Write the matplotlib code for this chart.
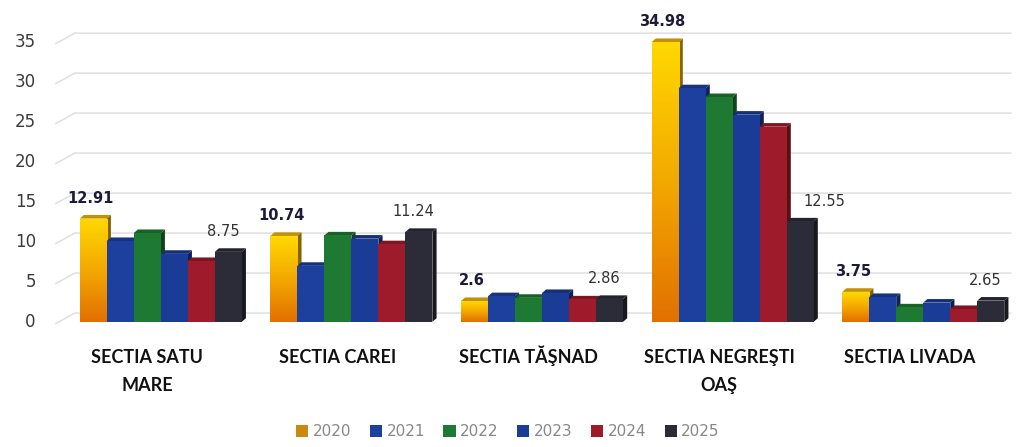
import numpy as np
import matplotlib
matplotlib.use("Agg")
import matplotlib.pyplot as plt
from matplotlib.patches import Rectangle, Polygon
from matplotlib.colors import LinearSegmentedColormap

categories = ["SECTIA SATU\nMARE", "SECTIA CAREI", "SECTIA TĂŞNAD", "SECTIA NEGREŞTI\nOAŞ", "SECTIA LIVADA"]
years = ["2020", "2021", "2022", "2023", "2024", "2025"]

v2020 = [12.91, 10.74, 2.6, 34.98, 3.75]
v2021 = [10.1, 7.0, 3.2, 29.2, 3.1]
v2022 = [11.1, 10.8, 3.0, 28.1, 1.8]
v2023 = [8.5, 10.4, 3.6, 25.9, 2.4]
v2024 = [7.6, 9.7, 2.8, 24.4, 1.6]
v2025 = [8.75, 11.24, 2.86, 12.55, 2.65]
series = [v2020, v2021, v2022, v2023, v2024, v2025]

colors = ["#f2b400", "#1d3f9e", "#1e7a32", "#1a3c96", "#9e1b2b", "#2c2c38"]
yticks = [0, 5, 10, 15, 20, 25, 30, 35]

# horizontal nudge (in bar widths) of the 2025 labels, as placed in the original
nudge_2025 = [-0.2, -0.2, -0.2, 0.9, -0.2]


def shade(c, f):
    r, g, b, a = matplotlib.colors.to_rgba(c)
    return (r * f, g * f, b * f, a)


fig = plt.figure(figsize=(10.16, 4.47), dpi=100)
ax = fig.add_axes([0.055, 0.28, 0.94, 0.662])
ax.set_xlim(-0.55, 4.46)
ax.set_ylim(0, 37)
ax.axis("off")

# back wall gridlines with a little perspective slant on the left
x0, x1 = ax.get_xlim()
ytrans = ax.get_yaxis_transform()
for t in yticks:
    ax.plot([x0, x0 + 0.1, x1], [t - 0.2, t + 1.1, t + 1.1], color="#dcdcdc", lw=1.0, zorder=0, clip_on=False)
    ax.text(-0.021, t, str(t), transform=ytrans, ha="right", va="center",
            fontsize=12, color="#3a3a3a", clip_on=False)

width = 0.85 / 6
dx, dy = 0.022, 0.45
grad = LinearSegmentedColormap.from_list("gold", ["#e27000", "#f3a800", "#ffd800"])
gimg = np.linspace(0, 1, 256).reshape(-1, 1)

for j, vals in enumerate(series):
    for i, v in enumerate(vals):
        left = i - 0.425 + j * width
        c = colors[j]
        # side + top faces for a bit of 3D
        side = Polygon([[left + width, 0], [left + width + dx, dy], [left + width + dx, v + dy],
                        [left + width, v]], closed=True, fc=shade(c, 0.55), ec="none", zorder=2 + j)
        top = Polygon([[left, v], [left + dx, v + dy], [left + width + dx, v + dy], [left + width, v]],
                      closed=True, fc=shade(c, 0.8), ec="none", zorder=2 + j)
        ax.add_patch(side)
        ax.add_patch(top)
        rect = Rectangle((left, 0), width, v, fc=c, ec="none", zorder=2 + j)
        ax.add_patch(rect)
        if j == 0:
            im = ax.imshow(gimg, cmap=grad, origin="lower", aspect="auto",
                           extent=[left, left + width, 0, v], zorder=2.5)
            im.set_clip_path(rect)
            ax.text(left + width * 0.4, v + 1.6, f"{v:g}", ha="center", va="bottom",
                    fontsize=10.5, fontweight="bold", color="#1b1b3a", zorder=20)
        if j == 5:
            ax.text(left + width * (0.5 + nudge_2025[i]), v + 1.6, f"{v:g}", ha="center", va="bottom",
                    fontsize=10.5, color="#333333", zorder=20)

ax.set_xlim(x0, x1)
ax.set_ylim(0, 37)

# category labels, one line at a time so the baselines line up
for i, cat in enumerate(categories):
    for k, line in enumerate(cat.split("\n")):
        ax.text(i - 0.07, -5.1 - 3.6 * k, line, ha="center", va="baseline", fontsize=13,
                fontweight="bold", family=["Lato", "DejaVu Sans"], color="#111111",
                clip_on=False)

# legend
handles = [Rectangle((0, 0), 1, 1, fc=c, ec="none") for c in colors]
handles[0] = Rectangle((0, 0), 1, 1, fc="#c98a12", ec="none")
fig.legend(handles, years, loc="center", bbox_to_anchor=(0.5, 0.034), ncol=6, frameon=False,
           fontsize=11, handlelength=0.8, handleheight=0.8, handletextpad=0.3, columnspacing=1.2,
           labelcolor="#888888")

fig.savefig("out.png", dpi=100)
